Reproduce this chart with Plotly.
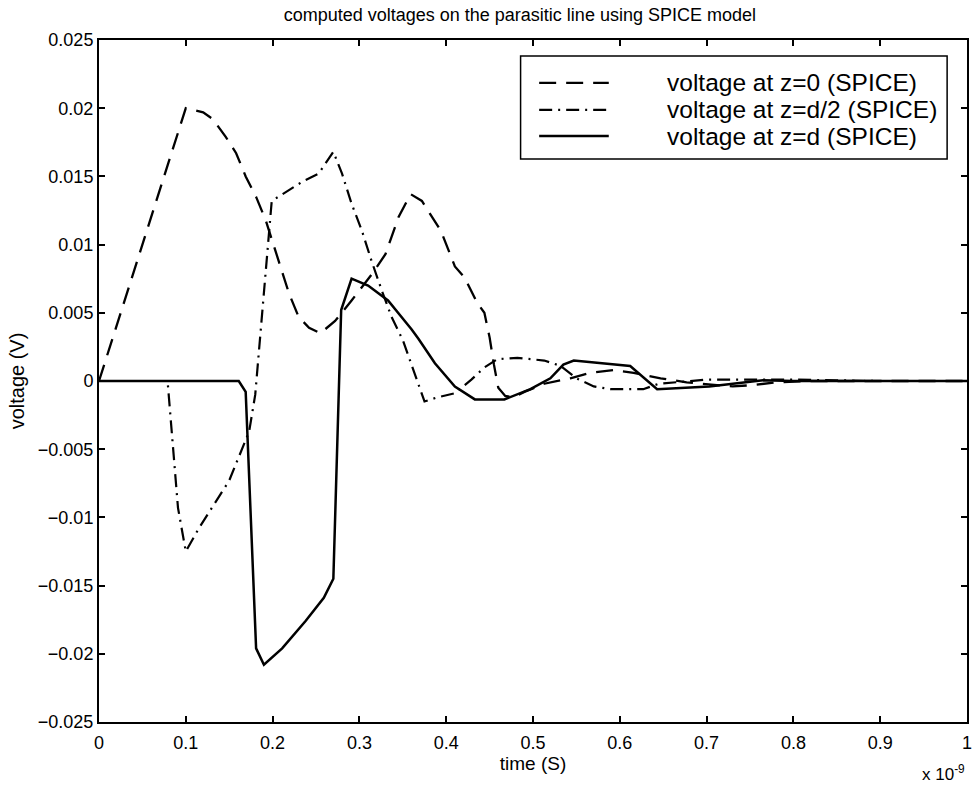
import plotly.graph_objects as go

# time in units of 1e-9 s
t_z0 = [0, 0.1, 0.12, 0.131, 0.146, 0.158, 0.169, 0.181, 0.192, 0.207, 0.219, 0.23, 0.242,
        0.255, 0.272, 0.291, 0.314, 0.33, 0.345, 0.359, 0.372, 0.394, 0.41, 0.421, 0.436,
        0.444, 0.45, 0.455, 0.46, 0.468, 0.478, 0.49, 0.513, 0.543, 0.566, 0.593, 0.616,
        0.647, 0.677, 0.73, 0.753, 0.78, 0.82, 1.0]
v_z0 = [0, 0.020, 0.0197, 0.0192, 0.0179, 0.0167, 0.0150, 0.0135, 0.0118, 0.0088, 0.0064,
        0.0047, 0.0039, 0.0035, 0.0044, 0.0059, 0.0078, 0.0093, 0.0120, 0.0137, 0.0132,
        0.0110, 0.0084, 0.0076, 0.0057, 0.0050, 0.0032, 0.0012, -0.0005, -0.0011, -0.0012,
        -0.0008, -0.0002, 0.0002, 0.0006, 0.0008, 0.0006, 0.0002, -0.0001, -0.0004,
        -0.0003, -0.0001, 0.0, 0.0]

t_zh = [0, 0.079, 0.091, 0.1, 0.115, 0.15, 0.173, 0.18, 0.199, 0.234, 0.253, 0.27, 0.28,
        0.291, 0.303, 0.314, 0.326, 0.337, 0.35, 0.362, 0.37, 0.375, 0.39, 0.41, 0.429,
        0.444, 0.459, 0.482, 0.513, 0.532, 0.55, 0.57, 0.589, 0.627, 0.645, 0.666, 0.7,
        0.8, 0.9, 1.0]
v_zh = [0, 0, -0.0093, -0.0125, -0.0108, -0.0073, -0.0037, -0.0010, 0.0132, 0.0146, 0.0152,
        0.0168, 0.0152, 0.0130, 0.0110, 0.0088, 0.0066, 0.0047, 0.0030, 0.0008, -0.0007,
        -0.0015, -0.0012, -0.0009, 0.0001, 0.0010, 0.0016, 0.0017, 0.0015, 0.0011, 0.0002,
        -0.0004, -0.0006, -0.0006, -0.0002, -0.0001, 0.0001, 0.0001, 0.0, 0.0]

t_zd = [0, 0.161, 0.169, 0.181, 0.19, 0.211, 0.238, 0.259, 0.27, 0.279, 0.291, 0.31, 0.333,
        0.345, 0.36, 0.368, 0.387, 0.41, 0.433, 0.467, 0.497, 0.52, 0.535, 0.547, 0.612,
        0.643, 0.703, 0.765, 0.8, 1.0]
v_zd = [0, 0, -0.0008, -0.0196, -0.0208, -0.0196, -0.0176, -0.0159, -0.0145, 0.0052, 0.0075,
        0.0070, 0.0059, 0.0050, 0.0038, 0.0031, 0.0013, -0.0004, -0.00135, -0.00135, -0.0006,
        0.0002, 0.0012, 0.0015, 0.0011, -0.0006, -0.0004, 0.00005, 0.0, 0.0]

names = ["voltage at z=0 (SPICE)", "voltage at z=d/2 (SPICE)", "voltage at z=d (SPICE)"]

y_ticks = [0.025, 0.02, 0.015, 0.01, 0.005, 0, -0.005, -0.01, -0.015, -0.02, -0.025]
y_tick_text = ["0.025", "0.02", "0.015", "0.01", "0.005", "0", "\u22120.005", "\u22120.01",
               "\u22120.015", "\u22120.02", "\u22120.025"]
x_ticks = [0, 0.1, 0.2, 0.3, 0.4, 0.5, 0.6, 0.7, 0.8, 0.9, 1]
x_tick_text = ["0", "0.1", "0.2", "0.3", "0.4", "0.5", "0.6", "0.7", "0.8", "0.9", "1"]

FONT = "Liberation Sans, Arial, sans-serif"
DASHES = ["17px,10px", "13px,6px,2px,6px", "solid"]
WIDTHS = [2.3, 2.2, 2.5]

fig = go.Figure()
for tx, vy, nm, ds, w in zip([t_z0, t_zh, t_zd], [v_z0, v_zh, v_zd], names, DASHES, WIDTHS):
    fig.add_trace(go.Scatter(x=tx, y=vy, mode="lines", name=nm, showlegend=False,
                             line=dict(color="black", width=w, dash=ds)))

axis_common = dict(showgrid=False, zeroline=False, showline=True, linecolor="black",
                   linewidth=2, mirror="ticks", ticks="inside", ticklen=6, tickwidth=1.5,
                   tickcolor="black", tickfont=dict(family=FONT, size=18, color="black"))

fig.update_layout(
    width=979, height=785,
    margin=dict(l=99, r=7, t=40, b=63),
    paper_bgcolor="white", plot_bgcolor="white",
    font=dict(family=FONT, color="black"),
    title=dict(text="computed voltages on the parasitic line using SPICE model",
               x=0.531, xanchor="center", y=0.981, yanchor="middle",
               font=dict(family=FONT, size=18, color="black")),
    xaxis=dict(range=[0, 1], tickvals=x_ticks, ticktext=x_tick_text, ticklabelstandoff=3,
               title=dict(text="time (S)", font=dict(family=FONT, size=19), standoff=4),
               **axis_common),
    yaxis=dict(range=[-0.025, 0.025], tickvals=y_ticks, ticktext=y_tick_text,
               title=dict(text="voltage (V)", font=dict(family=FONT, size=20), standoff=8),
               **axis_common),
    showlegend=False,
)

# legend box (drawn in paper coordinates, as in the original figure)
leg_x0, leg_x1, leg_y0, leg_y1 = 0.4857, 0.9771, 0.8255, 0.9765
fig.add_shape(type="rect", xref="paper", yref="paper", x0=leg_x0, x1=leg_x1,
              y0=leg_y0, y1=leg_y1, line=dict(color="black", width=1.5),
              fillcolor="white", layer="above")
row_y = [0.937, 0.8974, 0.8592]
for ry, nm, ds, w in zip(row_y, names, DASHES, WIDTHS):
    fig.add_shape(type="line", xref="paper", yref="paper", x0=0.5071, x1=0.5873,
                  y0=ry, y1=ry, line=dict(color="black", width=w, dash=ds), layer="above")
    fig.add_annotation(text=nm, xref="paper", yref="paper", x=0.6518, y=ry,
                       xanchor="left", yanchor="middle", showarrow=False,
                       font=dict(family=FONT, size=24.5, color="black"))

fig.add_annotation(text="x 10<sup>-9</sup>", xref="paper", yref="paper",
                   x=1.0, y=-0.075, xanchor="right", yanchor="middle", showarrow=False,
                   font=dict(family=FONT, size=17, color="black"))

fig.write_html("out.html")
